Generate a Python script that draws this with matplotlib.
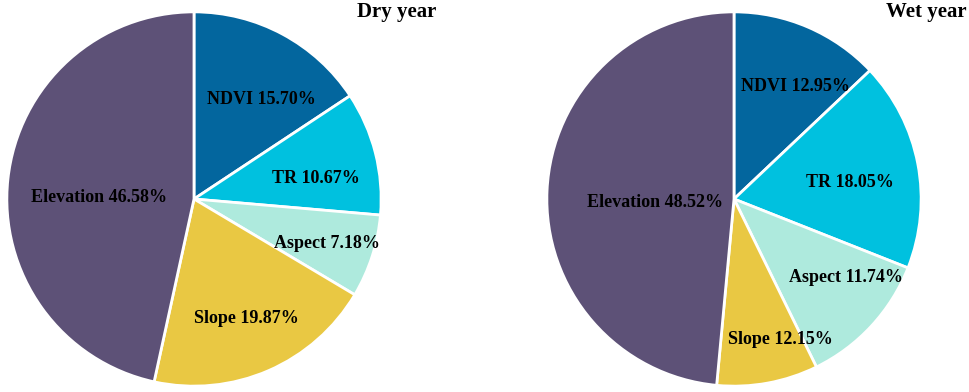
import matplotlib.pyplot as plt

# factors, same order in both pies (clockwise from 12 o'clock)
factors = ['NDVI', 'TR', 'Aspect', 'Slope', 'Elevation']
dry_pct = [15.70, 10.67, 7.18, 19.87, 46.58]
wet_pct = [12.95, 18.05, 11.74, 12.15, 48.52]
# wedge sizes as drawn in the wet pie (slope wedge is smaller than its label)
wet_sizes = [12.95, 18.05, 11.74, 8.74, 48.52]

colors = ['#03669E', '#00C1DF', '#AEEADD', '#E9C843', '#5D5177']

# label anchor positions (pie radius = 1)
dry_pos = [(0.36, 0.53), (0.65, 0.11), (0.71, -0.24), (0.28, -0.64), (-0.51, 0.01)]
wet_pos = [(0.33, 0.60), (0.62, 0.09), (0.60, -0.42), (0.25, -0.75), (-0.42, -0.02)]

plt.rcParams['font.family'] = ['Liberation Serif', 'DejaVu Serif']

W, H = 969, 392
R = 189
fig = plt.figure(figsize=(W / 100, H / 100), dpi=100)


def draw_pie(cx, cy, sizes, pct, pos, title, title_x):
    ax = fig.add_axes([(cx - R) / W, (H - cy - R) / H, 2 * R / W, 2 * R / H])
    ax.pie(sizes, colors=colors, startangle=90, counterclock=False, radius=1,
           wedgeprops=dict(edgecolor='white', linewidth=2))
    ax.set_xlim(-1.01, 1.01)
    ax.set_ylim(-1.01, 1.01)
    ax.set_aspect('equal')
    ax.axis('off')
    for name, p, (x, y) in zip(factors, pct, pos):
        ax.text(x, y, f'{name} {p:.2f}%', ha='center', va='center',
                fontsize=13, fontweight='bold', color='black')
    fig.text(title_x / W, 1 - 12 / H, title, ha='center', va='center',
             fontsize=15, fontweight='bold')


draw_pie(194, 199, dry_pct, dry_pct, dry_pos, 'Dry year', 397)
draw_pie(734, 199, wet_sizes, wet_pct, wet_pos, 'Wet year', 926)

fig.savefig('out.png', dpi=100)
